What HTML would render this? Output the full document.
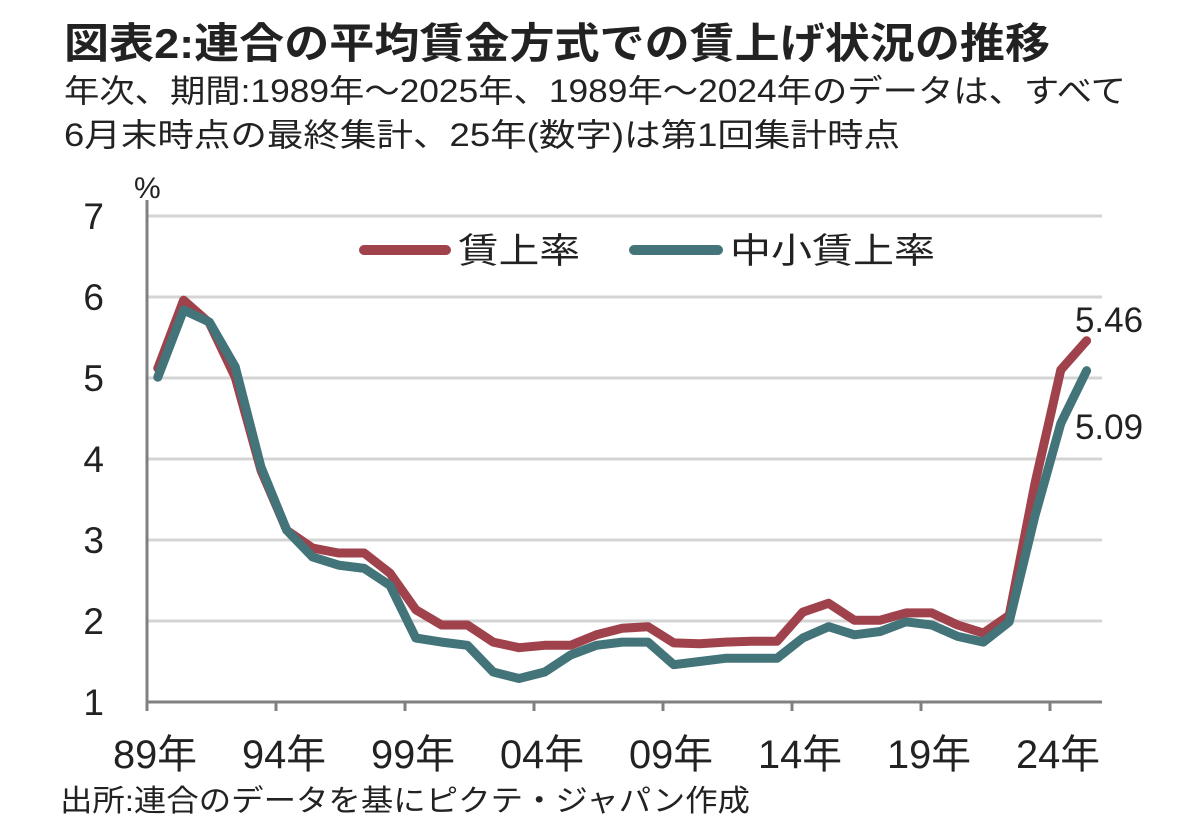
<!DOCTYPE html>
<html><head><meta charset="utf-8"><style>
body{margin:0;background:#fff;}
svg text{font-family:"Liberation Sans","Noto Sans CJK JP",sans-serif;fill:#222;}
</style></head><body>
<svg width="1202" height="831" viewBox="0 0 1202 831" xmlns="http://www.w3.org/2000/svg">
<text x="64" y="58" font-size="42" font-weight="bold" textLength="986" lengthAdjust="spacingAndGlyphs">図表2:連合の平均賃金方式での賃上げ状況の推移</text>
<text x="64" y="102" font-size="32" fill="#333" textLength="1062" lengthAdjust="spacingAndGlyphs">年次、期間:1989年～2025年、1989年～2024年のデータは、すべて</text>
<text x="64" y="146" font-size="32" fill="#333" textLength="836" lengthAdjust="spacingAndGlyphs">6月末時点の最終集計、25年(数字)は第1回集計時点</text>
<text x="134" y="198" font-size="30">%</text>
<g id="grid"></g>
<g id="yl"></g>
<g id="xl"></g>
<g id="series"></g>
<g>
<line x1="364" y1="250" x2="446" y2="250" stroke="#a0424b" stroke-width="10" stroke-linecap="round"/>
<text x="458" y="263" font-size="35" textLength="122" lengthAdjust="spacingAndGlyphs">賃上率</text>
<line x1="634" y1="250" x2="718" y2="250" stroke="#437479" stroke-width="10" stroke-linecap="round"/>
<text x="730" y="263" font-size="35" textLength="205" lengthAdjust="spacingAndGlyphs">中小賃上率</text>
</g>
<text x="1109" y="332" font-size="35" text-anchor="middle">5.46</text>
<text x="1109" y="439" font-size="35" text-anchor="middle">5.09</text>
<text x="60" y="811" font-size="30" fill="#333" textLength="690" lengthAdjust="spacingAndGlyphs">出所:連合のデータを基にピクテ・ジャパン作成</text>
</svg>
<script>
const years=[1989,1990,1991,1992,1993,1994,1995,1996,1997,1998,1999,2000,2001,2002,2003,2004,2005,2006,2007,2008,2009,2010,2011,2012,2013,2014,2015,2016,2017,2018,2019,2020,2021,2022,2023,2024,2025];
const wageRate=[5.12,5.96,5.68,5.01,3.86,3.12,2.90,2.84,2.84,2.59,2.14,1.95,1.95,1.74,1.67,1.70,1.70,1.83,1.91,1.93,1.73,1.72,1.74,1.75,1.75,2.11,2.22,2.01,2.01,2.10,2.10,1.95,1.85,2.07,3.7,5.10,5.46];
const smeRate=[5.01,5.84,5.69,5.14,3.90,3.12,2.79,2.69,2.65,2.44,1.79,1.74,1.70,1.37,1.29,1.37,1.58,1.70,1.74,1.74,1.46,1.50,1.54,1.54,1.54,1.79,1.93,1.83,1.87,1.99,1.95,1.81,1.74,1.99,3.3,4.44,5.09];
const yTicks=[1,2,3,4,5,6,7];
const xTickLabels=["89年","94年","99年","04年","09年","14年","19年","24年"];
const xTickIdx=[0,5,10,15,20,25,30,35];
const NS="http://www.w3.org/2000/svg";
const X0=147,X1=1102,STEP=25.8;
const xPt=i=>X0+(i+0.42)*STEP;
const xTick=i=>X0+i*STEP;
const y=v=>702-(v-1)*81;
function mk(tag,attrs,parent){const e=document.createElementNS(NS,tag);for(const k in attrs)e.setAttribute(k,attrs[k]);parent.appendChild(e);return e;}
const grid=document.getElementById('grid'),yl=document.getElementById('yl'),xl=document.getElementById('xl'),ser=document.getElementById('series');
yTicks.forEach(v=>{
 if(v>1){const g=mk('line',{x1:X0,x2:X1,y1:y(v),y2:y(v),stroke:'#d4d4d4','stroke-width':3},grid);
 
 }
 const t=mk('text',{x:104,y:y(v)+13,'font-size':37,'text-anchor':'end'},yl);t.textContent=v;
 
 
});
const ax=mk('line',{x1:X0,x2:X0,y1:200,y2:703,stroke:'#808080','stroke-width':3},grid);


const bx=mk('line',{x1:X0-1,x2:X1,y1:702,y2:702,stroke:'#808080','stroke-width':3},grid);


xTickIdx.forEach((idx,k)=>{
 const tk=mk('line',{x1:xTick(idx),x2:xTick(idx),y1:702,y2:711,stroke:'#808080','stroke-width':3},grid);
 
 
 const t=mk('text',{x:xTick(idx)-34,y:768,'font-size':40,textLength:84,lengthAdjust:'spacingAndGlyphs'},xl);t.textContent=xTickLabels[k];
 
 
});
function line(vals,color,name){
 const d=vals.map((v,i)=>(i?'L':'M')+xPt(i).toFixed(1)+','+y(v).toFixed(1)).join(' ');
 const p=mk('path',{d:d,fill:'none',stroke:color,'stroke-width':9,'stroke-linejoin':'round','stroke-linecap':'round'},ser);
 
 
}
line(wageRate,'#a0424b','line-wage-rate');
line(smeRate,'#437479','line-sme-wage-rate');
</script>
</body></html>
